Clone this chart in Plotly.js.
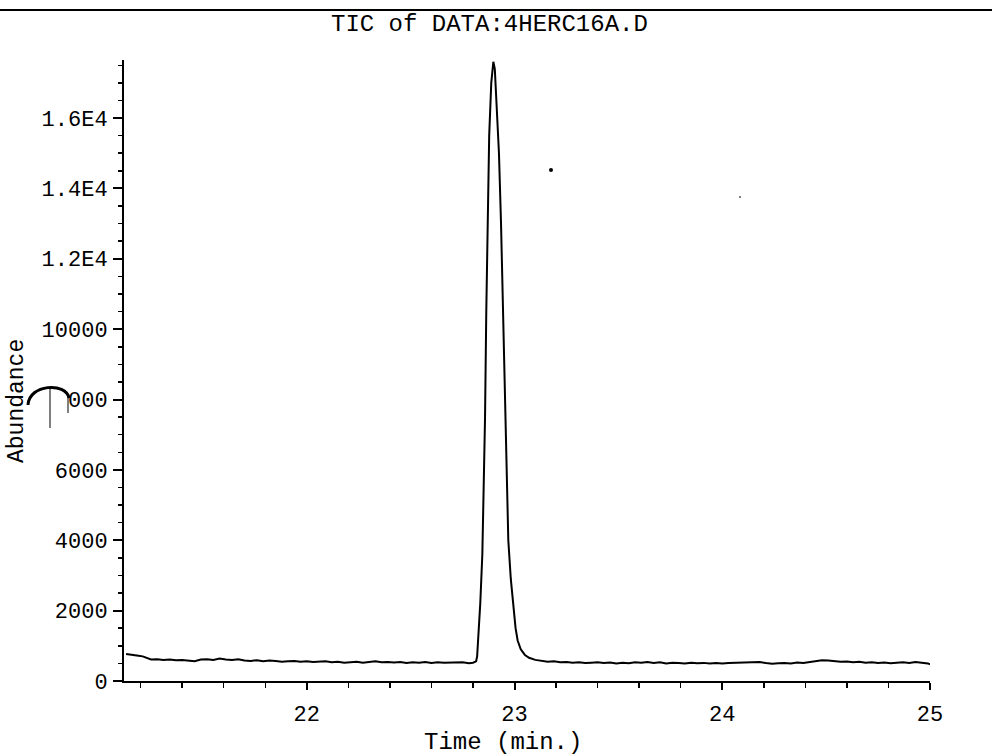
<!DOCTYPE html>
<html>
<head>
<meta charset="utf-8">
<script src="https://cdn.plot.ly/plotly-3.0.1.min.js"></script>
<style>html,body{margin:0;padding:0;background:#fff;}#chart{width:992px;height:755px;}</style>
</head>
<body>
<div id="chart"></div>
<script>
// ---- data ----
const chartTitle = "TIC of DATA:4HERC16A.D";
const xTitle = "Time (min.)";
const yTitle = "Abundance";

const timeMin = [
  21.13,21.15,21.17,21.19,21.21,21.23,21.25,21.28,21.31,21.34,21.37,21.40,21.43,21.46,21.49,
  21.52,21.55,21.58,21.61,21.64,21.67,21.70,21.73,21.76,21.79,21.82,21.85,21.88,21.91,21.94,
  21.97,22.00,22.03,22.06,22.09,22.12,22.15,22.18,22.21,22.24,22.27,22.30,22.33,22.36,22.39,
  22.42,22.45,22.48,22.51,22.54,22.57,22.60,22.63,22.66,22.69,22.72,22.75,22.78,22.80,
  22.815,22.820,22.825,22.835,22.845,22.852,22.858,22.864,22.870,22.878,22.888,22.898,22.905,
  22.915,22.925,22.935,22.943,22.952,22.960,22.970,22.982,22.995,23.005,23.015,23.030,23.050,
  23.070,23.100,23.130,
  23.16,23.19,23.22,23.25,23.28,23.31,23.34,23.37,23.40,23.43,23.46,23.49,23.52,23.55,23.58,
  23.61,23.64,23.67,23.70,23.73,23.76,23.79,23.82,23.85,23.88,23.91,23.94,23.97,24.00,24.03,
  24.06,24.09,24.12,24.15,24.18,24.21,24.24,24.27,24.30,24.33,24.36,24.39,24.42,24.45,24.48,
  24.51,24.54,24.57,24.60,24.63,24.66,24.69,24.72,24.75,24.78,24.81,24.84,24.87,24.90,24.93,
  24.96,24.99,25.00
];
const abundance = [
  770,760,740,720,700,650,610,620,600,610,590,600,580,560,610,
  620,600,640,610,600,620,580,570,590,560,580,570,550,560,570,
  545,560,540,550,560,530,545,520,540,550,520,535,560,530,540,
  525,540,510,530,520,540,515,530,520,525,510,530,505,520,
  560,700,1200,2200,3600,5500,7500,10500,13000,15500,17000,17600,17400,
  16300,15000,13000,10800,8000,6000,4000,2900,2000,1500,1150,900,740,
  660,600,570,
  550,560,530,540,520,535,510,520,530,510,525,500,520,505,535,
  520,540,515,530,500,520,510,500,520,505,515,495,510,500,515,
  520,505,530,520,540,510,490,505,515,500,525,510,530,560,590,
  580,560,545,555,530,550,520,530,510,525,505,520,530,515,540,
  520,500,470
];

const xTickVals = [22, 23, 24, 25];
const xTickText = ["22", "23", "24", "25"];
const yTickVals = [0, 2000, 4000, 6000, 8000, 10000, 12000, 14000, 16000];
const yTickText = ["0", "2000", "4000", "6000", "8000", "10000", "1.2E4", "1.4E4", "1.6E4"];

// ---- layout helpers (pixel -> paper, for decorations only) ----
const L = 124, R = 62, T = 60, B = 74, W = 992, H = 755;
const pw = W - L - R, ph = H - T - B;
const px = x => (x - L) / pw;
const py = y => (H - B - y) / ph;

const FONT = "Liberation Mono, DejaVu Sans Mono, monospace";

const trace = {
  x: timeMin, y: abundance, type: "scatter", mode: "lines",
  line: {color: "#000", width: 2}, hoverinfo: "x+y", showlegend: false
};

const layout = {
  width: W, height: H,
  margin: {l: L, r: R, t: T, b: B, pad: 0},
  paper_bgcolor: "#fff", plot_bgcolor: "#fff",
  font: {family: FONT, color: "#000", size: 22},
  xaxis: {
    range: [21.12, 25.0], tickvals: xTickVals, ticktext: xTickText,
    ticks: "outside", ticklen: 7, tickwidth: 2, tickcolor: "#000",
    showline: true, linewidth: 2, linecolor: "#000",
    showgrid: false, zeroline: false,
    tickfont: {family: FONT, size: 22, color: "#000"},
    ticklabelstandoff: 5,
    minor: {dtick: 0.2, tick0: 0, ticks: "outside", ticklen: 5, tickwidth: 1.5, tickcolor: "#000", showgrid: false}
  },
  yaxis: {
    range: [0, 17650], tickvals: yTickVals, ticktext: yTickText,
    ticks: "outside", ticklen: 9, tickwidth: 2, tickcolor: "#000",
    showline: true, linewidth: 2, linecolor: "#000",
    showgrid: false, zeroline: false,
    tickfont: {family: FONT, size: 22, color: "#000"},
    ticklabelstandoff: 1,
    minor: {dtick: 500, tick0: 0, ticks: "outside", ticklen: 4, tickwidth: 1.5, tickcolor: "#000", showgrid: false}
  },
  annotations: [
    {text: chartTitle, xref: "paper", yref: "paper", x: px(489), y: py(25),
     xanchor: "center", yanchor: "middle", showarrow: false,
     font: {family: FONT, size: 24, color: "#000"}},
    {text: xTitle, xref: "paper", yref: "paper", x: px(503), y: py(742),
     xanchor: "center", yanchor: "middle", showarrow: false,
     font: {family: FONT, size: 24, color: "#000"}},
    {text: yTitle, xref: "paper", yref: "paper", x: px(17), y: py(401),
     xanchor: "center", yanchor: "middle", showarrow: false, textangle: -90,
     font: {family: FONT, size: 23, color: "#000"}}
  ],
  shapes: [
    // header rule at top of page
    {type: "line", xref: "paper", yref: "paper", x0: px(0), x1: px(992), y0: py(10), y1: py(10),
     line: {color: "#000", width: 2}},
    // pen artifact over the 8000 label
    {type: "rect", xref: "paper", yref: "paper", x0: px(44), x1: px(67), y0: py(414), y1: py(388),
     fillcolor: "#fff", line: {width: 0}, layer: "above"},
    {type: "path", xref: "paper", yref: "paper", layer: "above",
     path: "M " + px(28) + "," + py(405) + " C " + px(29) + "," + py(384) + " " + px(66) + "," + py(382) + " " + px(69) + "," + py(398),
     line: {color: "#000", width: 3}},
    {type: "line", xref: "paper", yref: "paper", x0: px(50), x1: px(50), y0: py(388), y1: py(428),
     line: {color: "#000", width: 1}, layer: "above"},
    {type: "line", xref: "paper", yref: "paper", x0: px(68), x1: px(68), y0: py(397), y1: py(413),
     line: {color: "#000", width: 1}, layer: "above"},
    // stray dots
    {type: "circle", xref: "paper", yref: "paper", x0: px(549), x1: px(553), y0: py(168), y1: py(172),
     fillcolor: "#000", line: {width: 0}},
    {type: "circle", xref: "paper", yref: "paper", x0: px(739), x1: px(741), y0: py(196), y1: py(198),
     fillcolor: "#555", line: {width: 0}}
  ]
};

Plotly.newPlot("chart", [trace], layout, {staticPlot: true, displayModeBar: false});
</script>
</body>
</html>
